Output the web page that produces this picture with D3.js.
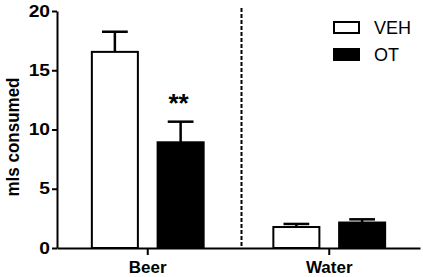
<!DOCTYPE html>
<html>
<meta charset="utf-8">
<style>
    body { margin: 0; background: #fff; }
    * { font-family: 'Liberation Sans', Arial, sans-serif; }
</style>
<body>
<svg id="chart" width="423" height="277"></svg>
<script src="https://d3js.org/d3.v7.min.js"></script>
<script>
    const groups = ["Beer", "Water"];
    const treatments = ["VEH", "OT"];
    const meanVEH = [16.55, 1.77];
    const meanOT = [8.92, 2.15];
    const semVEH = [1.7, 0.26];
    const semOT = [1.74, 0.27];
    const yTicks = [0, 5, 10, 15, 20];
    const significance = ["**", ""];

    const chart = d3.select("#chart");

    const plotLeft = 57, plotRight = 420, plotTop = 11, plotBottom = 248;

    const y = d3.scaleLinear().domain([0, 20]).range([plotBottom, plotTop]);
    const x0 = d3.scaleBand().domain(groups).range([plotLeft, plotRight]);
    const x1 = d3.scaleBand().domain(treatments).range([0, x0.bandwidth()])
        .paddingInner(0.3).paddingOuter(0.53);

    const rows = [];
    groups.forEach((g, i) => {
        rows.push({ group: g, trt: "VEH", mean: meanVEH[i], sem: semVEH[i] });
        rows.push({ group: g, trt: "OT", mean: meanOT[i], sem: semOT[i] });
    });

    const fill = { VEH: "#fff", OT: "#000" };

    // stretch text sideways a little, the original glyphs are wider
    function widen(sel, k) {
        sel.each(function () {
            const w = this.getComputedTextLength();
            d3.select(this).attr("textLength", w * k).attr("lengthAdjust", "spacingAndGlyphs");
        });
    }

    // dashed divider between groups
    chart.append("line")
        .attr("x1", x0("Water") + 3).attr("x2", x0("Water") + 3)
        .attr("y1", 8).attr("y2", plotBottom)
        .attr("stroke", "#000").attr("stroke-width", 2)
        .attr("stroke-dasharray", "4,2");

    // error bars (upper only)
    const err = chart.append("g").selectAll("g").data(rows).enter().append("g")
        .attr("stroke", "#000").attr("stroke-width", 2.5);
    err.append("line")
        .attr("x1", d => x0(d.group) + x1(d.trt) + x1.bandwidth() / 2)
        .attr("x2", d => x0(d.group) + x1(d.trt) + x1.bandwidth() / 2)
        .attr("y1", d => y(d.mean)).attr("y2", d => y(d.mean + d.sem));
    err.append("line")
        .attr("x1", d => x0(d.group) + x1(d.trt) + x1.bandwidth() * 0.22)
        .attr("x2", d => x0(d.group) + x1(d.trt) + x1.bandwidth() * 0.78)
        .attr("y1", d => y(d.mean + d.sem)).attr("y2", d => y(d.mean + d.sem));

    // bars
    chart.append("g").selectAll("rect").data(rows).enter().append("rect")
        .attr("x", d => x0(d.group) + x1(d.trt))
        .attr("y", d => y(d.mean))
        .attr("width", x1.bandwidth())
        .attr("height", d => y(0) - y(d.mean))
        .attr("fill", d => fill[d.trt])
        .attr("stroke", "#000").attr("stroke-width", 2);

    // significance stars over OT bars
    chart.append("g").selectAll("text").data(groups).enter().append("text")
        .attr("x", g => x0(g) + x1("OT") + x1.bandwidth() / 2 - 2)
        .attr("y", (g, i) => y(meanOT[i] + semOT[i]) - 10)
        .attr("text-anchor", "middle")
        .style("font-size", "26px").style("font-weight", "bold")
        .text((g, i) => significance[i]);

    // axes
    const yAxis = chart.append("g")
        .attr("transform", "translate(" + plotLeft + ",0)")
        .call(d3.axisLeft(y).tickValues(yTicks).tickSize(5).tickSizeOuter(0).tickPadding(2));
    const xAxis = chart.append("g")
        .attr("transform", "translate(0," + plotBottom + ")")
        .call(d3.axisBottom(x0).tickSize(7).tickSizeOuter(0).tickPadding(6));

    [yAxis, xAxis].forEach(a => {
        a.selectAll("path, line").attr("stroke", "#000").attr("stroke-width", 2);
        a.selectAll("text").attr("fill", "#000")
            .style("font-weight", "bold").style("font-family", "'Liberation Sans', Arial, sans-serif");
    });
    yAxis.selectAll("text").style("font-size", "16px").call(widen, 1.2);
    xAxis.selectAll("text").style("font-size", "17px");

    chart.append("text")
        .attr("transform", "translate(19,137)scale(1.1,1)rotate(-90)")
        .attr("text-anchor", "middle")
        .style("font-size", "17px").style("font-weight", "bold")
        .text("mls consumed");

    // legend
    const legend = chart.append("g").selectAll("g").data(treatments).enter().append("g")
        .attr("transform", (d, i) => "translate(333," + (21 + i * 27) + ")");
    legend.append("rect")
        .attr("x", 1).attr("y", 1)
        .attr("width", 25).attr("height", 11)
        .attr("fill", d => fill[d]).attr("stroke", "#000").attr("stroke-width", 2);
    legend.append("text")
        .attr("x", 41).attr("y", 13)
        .style("font-size", "18px")
        .text(d => d);
</script>
</body>
</html>
